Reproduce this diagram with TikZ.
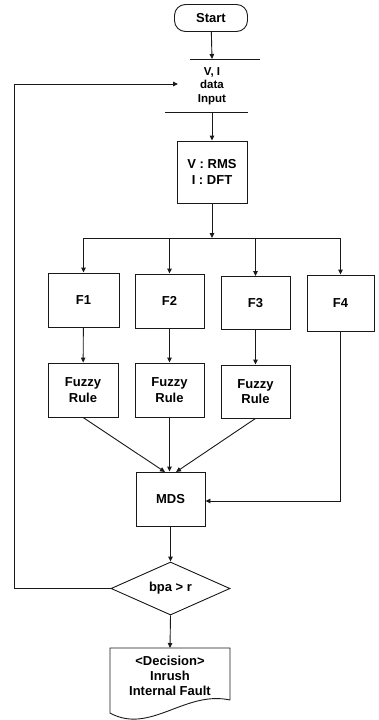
\documentclass[tikz,border=0pt]{standalone}
\usepackage{fontspec}
\setmainfont{Liberation Sans}
\usetikzlibrary{arrows.meta,shapes.geometric}
\begin{document}
\begin{tikzpicture}[x=1pt,y=-1pt,
  ln/.style={line width=0.9pt,draw=black!90},
  arr/.style={ln,-{Triangle[length=5pt,width=4.5pt]}},
  box/.style={ln,rectangle,inner sep=0pt,align=center,font=\fontsize{13}{15.5}\selectfont\bfseries},
  txt/.style={inner sep=0pt,align=center,font=\fontsize{13}{15}\selectfont\bfseries}]
\useasboundingbox (0,0) rectangle (378,720);
% start
\node[box,rounded corners=11pt,minimum width=73pt,minimum height=27pt] (start) at (211,18) {Start};
% data input
\coordinate (inTop) at (212,59);
\coordinate (inBot) at (212,112);
\coordinate (inLeft) at (178,84);
\coordinate (inTL) at (190,59);
\coordinate (inTR) at (260,59);
\coordinate (inBL) at (165,112);
\coordinate (inBR) at (248,112);
\draw[ln] (inTL) -- (inTR);
\draw[ln] (inBL) -- (inBR);
\node[txt,font=\fontsize{11.5}{13.5}\selectfont\bfseries] (in) at (212,86) {V, I\\data\\Input};
% RMS
\node[box,draw,minimum width=70pt,minimum height=62pt] (rms) at (212,172) {V : RMS\\I : DFT};
% F boxes
\node[box,draw,minimum width=71pt,minimum height=54pt] (f1) at (83.5,300) {F1};
\node[box,draw,minimum width=69pt,minimum height=54pt] (f2) at (169.5,301) {F2};
\node[box,draw,minimum width=69pt,minimum height=53pt] (f3) at (255.5,303) {F3};
\node[box,draw,minimum width=67pt,minimum height=56pt] (f4) at (340.5,303) {F4};
% fuzzy rule
\node[box,draw,minimum width=70pt,minimum height=54pt] (r1) at (83,390) {Fuzzy\\Rule};
\node[box,draw,minimum width=69pt,minimum height=54pt] (r2) at (169.5,390) {Fuzzy\\Rule};
\node[box,draw,minimum width=69pt,minimum height=53pt] (r3) at (255.5,391.5) {Fuzzy\\Rule};
% MDS
\node[box,draw,minimum width=69pt,minimum height=54pt] (mds) at (170.5,499) {MDS};
% diamond
\node[box,draw,diamond,minimum width=119pt,minimum height=53pt,aspect=2.25] (dia) at (170.5,588.5) {bpa > r};
% decision document
\coordinate (dTL) at (110,648);
\coordinate (dTR) at (230,648);
\coordinate (dBL) at (110,713);
\coordinate (dBR) at (230,700);
\coordinate (decTop) at (170,648);
\draw[ln] (dBR) -- (dTR) -- (dTL) -- (dBL) .. controls (150,735) and (185,690) .. (dBR);
\node[txt] (dec) at (170,676) {<Decision>\\Inrush\\Internal Fault};
% connectors
\draw[arr] (start) -- (inTop);
\draw[arr] (inBot) -- (rms);
\coordinate (br) at (212,238);
\coordinate (brL) at (83.5,238);
\coordinate (brR) at (340.5,238);
\draw[arr] (rms) -- (br);
\draw[ln] (brL) -- (brR);
\draw[arr] (brL) -- (f1);
\draw[arr] (f2.north |- br) -- (f2);
\draw[arr] (f3.north |- br) -- (f3);
\draw[arr] (brR) -- (f4);
\draw[arr] (f1) -- (r1);
\draw[arr] (f2) -- (r2);
\draw[arr] (f3) -- (r3);
\coordinate (m1) at (165,472);
\coordinate (m3) at (176,472);
\draw[arr] (r1.south) -- (m1);
\draw[arr] (r2.south) -- (mds.north -| r2.south);
\draw[arr] (r3.south) -- (m3);
\coordinate (f4c) at (340.5,501);
\draw[arr] (f4.south) -- (f4c) -- (mds.east |- f4c);
\draw[arr] (mds) -- (dia);
\coordinate (fbB) at (14,588.5);
\coordinate (fbT) at (14,84);
\draw[arr] (dia.west) -- (fbB) -- (fbT) -- (inLeft);
\draw[arr] (dia.south) -- (decTop);
\end{tikzpicture}
\end{document}
